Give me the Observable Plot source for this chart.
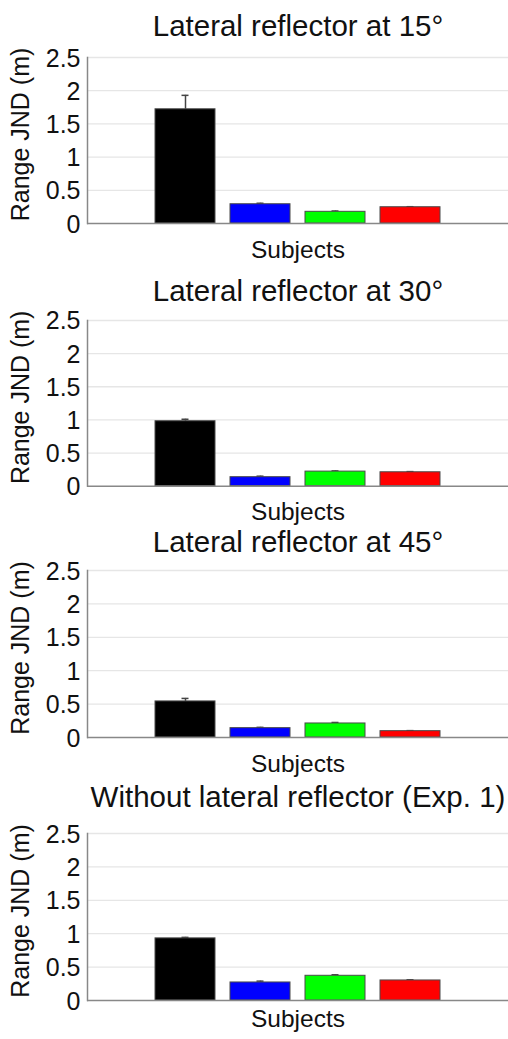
<!DOCTYPE html>
<html>
<head>
<meta charset="utf-8">
<script src="https://cdn.jsdelivr.net/npm/d3@7"></script>
<script src="https://cdn.jsdelivr.net/npm/@observablehq/plot@0.6"></script>
<style>
  html, body { margin: 0; padding: 0; background: #fff; }
  #root { position: relative; width: 508px; height: 1039px; overflow: hidden; }
  #root svg { position: absolute; left: 0; overflow: visible; }
</style>
</head>
<body>
<div id="root"></div>
<script>
// ---- data ----
const subjects = ["S1", "S2", "S3", "S4"];
const subjectColors = ["#000000", "#0000ff", "#00ff00", "#ff0000"];
const panelTitles = [
  "Lateral reflector at 15°",
  "Lateral reflector at 30°",
  "Lateral reflector at 45°",
  "Without lateral reflector (Exp. 1)"
];
const jnd15 = [1.72, 0.29, 0.176, 0.245];
const err15 = [0.21, 0.015, 0.012, 0.008];
const jnd30 = [0.98, 0.136, 0.22, 0.21];
const err30 = [0.03, 0.015, 0.01, 0.01];
const jnd45 = [0.54, 0.14, 0.21, 0.095];
const err45 = [0.045, 0.012, 0.015, 0.008];
const jndExp1 = [0.93, 0.27, 0.37, 0.30];
const errExp1 = [0.015, 0.02, 0.015, 0.01];
const yTicks = [0, 0.5, 1, 1.5, 2, 2.5];
const yLabel = "Range JND (m)";
const xLabel = "Subjects";

// ---- layout ----
const W = 508, marginLeft = 87, marginRight = 0, marginTop = 45, marginBottom = 40;
const plotTop = [57, 320, 570, 832.7];
const plotBottom = [223, 485.7, 737, 999.7];
const titleCenter = [26, 291.5, 542, 797];
const xLabelCenter = [250, 511.5, 764, 1018];
const FONT = "'Liberation Sans', Arial, Helvetica, sans-serif";

const panelValues = [jnd15, jnd30, jnd45, jndExp1];
const panelErrors = [err15, err30, err45, errExp1];

const root = document.getElementById("root");

panelValues.forEach((vals, p) => {
  const rows = subjects.map((s, i) => ({
    subject: s, value: vals[i], err: panelErrors[p][i], color: subjectColors[i]
  }));
  const plotH = plotBottom[p] - plotTop[p];
  const height = marginTop + plotH + marginBottom;
  const svg = Plot.plot({
    width: W,
    height,
    marginLeft, marginRight, marginTop, marginBottom,
    style: { fontFamily: FONT, fontSize: "23px", color: "#111", background: "transparent", overflow: "visible" },
    x: { domain: subjects, paddingInner: 0.2, paddingOuter: 0.87, axis: null },
    y: { domain: [0, 2.5], axis: null },
    marks: [
      Plot.ruleY(yTicks.filter(d => d > 0), { stroke: "#e6e6e6", strokeWidth: 1.3 }),
      Plot.ruleX(rows, { x: "subject", y1: "value", y2: d => d.value + d.err, stroke: "#444", strokeWidth: 1.5 }),
      Plot.tickY(rows, { x: "subject", y: d => d.value + d.err, stroke: "#444", strokeWidth: 1.5, inset: 26.5 }),
      Plot.barY(rows, { x: "subject", y: "value", fill: "color", stroke: "#4a4a4a", strokeWidth: 1 }),
      Plot.ruleY(rows, { x: "subject", y: "value", stroke: "#222", strokeWidth: 0.8, insetLeft: 26, insetRight: 26 }),
      Plot.text(yTicks, { y: d => d, text: d => String(d), frameAnchor: "left", textAnchor: "end", lineAnchor: "middle", dx: -7, dy: 1, fontSize: 25, fill: "#111" }),
      Plot.frame({ anchor: "left", stroke: "#888", strokeWidth: 1.5 }),
      Plot.ruleY([0], { stroke: "#888", strokeWidth: 1.5 }),
      Plot.text([panelTitles[p]], { text: d => d, frameAnchor: "top", lineAnchor: "middle", textAnchor: "middle", dy: titleCenter[p] - plotTop[p], fontSize: 29.5, fill: "#111" }),
      Plot.text([xLabel], { text: d => d, frameAnchor: "bottom", lineAnchor: "middle", textAnchor: "middle", dy: xLabelCenter[p] - plotBottom[p], fontSize: 24.5, fill: "#111" }),
      Plot.text([yLabel], { text: d => d, frameAnchor: "left", lineAnchor: "middle", textAnchor: "middle", rotate: -90, dx: 20 - marginLeft, dy: -6, fontSize: 25, fill: "#111" })
    ]
  });
  svg.style.top = (plotTop[p] - marginTop) + "px";
  root.appendChild(svg);
});
</script>
</body>
</html>
